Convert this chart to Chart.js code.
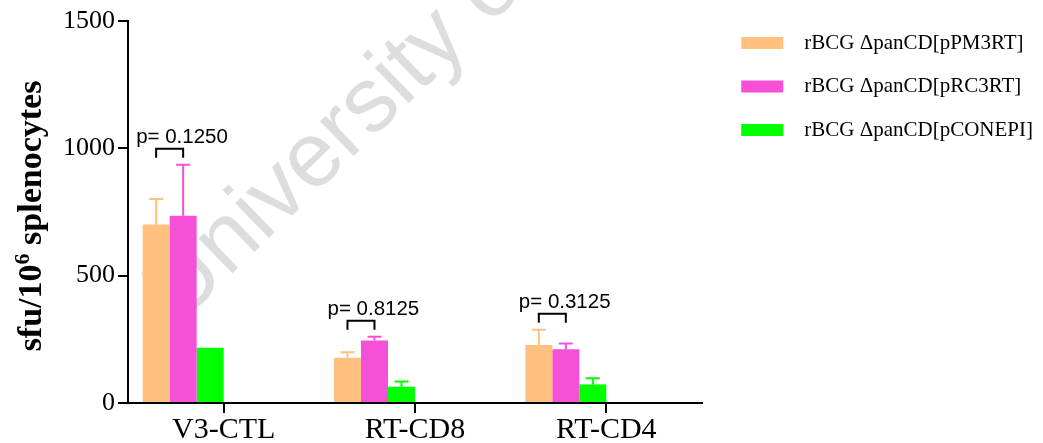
<!DOCTYPE html>
<html>
<head>
<meta charset="utf-8">
<script src="https://cdn.jsdelivr.net/npm/chart.js@4.4.1/dist/chart.umd.min.js"></script>
<style>
html,body{margin:0;padding:0;background:#fff;}
#c{display:block;}
</style>
</head>
<body>
<canvas id="c" width="1043" height="443"></canvas>
<script>
// ---- data ----
const categories = ['V3-CTL', 'RT-CD8', 'RT-CD4'];
const seriesNames = ['rBCG ΔpanCD[pPM3RT]', 'rBCG ΔpanCD[pRC3RT]', 'rBCG ΔpanCD[pCONEPI]'];
const pm3rtMean = [701, 178, 228];
const pm3rtErr = [100, 21, 60];
const rc3rtMean = [735, 245, 211];
const rc3rtErr = [201, 15, 23];
const conepiMean = [217, 64, 73];
const conepiErr = [0, 20, 24];
const pValueLabels = ['p= 0.1250', 'p= 0.8125', 'p= 0.3125'];
const yTickValues = [0, 500, 1000, 1500];
const yTitleMain = 'sfu/10';
const yTitleSup = '6';
const yTitleRest = ' splenocytes';
const watermarkText = 'University of';

const means = [pm3rtMean, rc3rtMean, conepiMean];
const errs = [pm3rtErr, rc3rtErr, conepiErr];
const colors = ['#FFC080', '#F550D7', '#00FF00'];

const SERIF = '"Liberation Serif", "Times New Roman", serif';
const SANS = '"Liberation Sans", Arial, sans-serif';

// legend width calculation so the plot ends at the same place
const LEG_FONT = 21, LEG_PAD = 22.5, LEG_BOX = 42;
const mctx = document.createElement('canvas').getContext('2d');
mctx.font = LEG_FONT + 'px ' + SERIF;
const textW = Math.max(...seriesNames.map(t => mctx.measureText('  ' + t).width));
const legendW = LEG_PAD + LEG_BOX + LEG_FONT / 2 + textW + 10;
const gapW = Math.max(0, 1043 - 702 - legendW);

const datasets = seriesNames.map((name, i) => ({
  label: name,
  data: means[i],
  backgroundColor: colors[i],
  borderWidth: 0
}));
// empty spacer slots (keep bars left of the tick like the original layout)
for (let k = 0; k < 3; k++) {
  datasets.push({ label: '', data: categories.map(() => null), backgroundColor: 'rgba(0,0,0,0)', borderWidth: 0 });
}

const watermarkPlugin = {
  id: 'watermark',
  beforeDatasetsDraw(chart) {
    const ctx = chart.ctx;
    ctx.save();
    ctx.translate(180, 324);
    ctx.rotate(-44 * Math.PI / 180);
    ctx.font = '92px ' + SANS;
    ctx.fillStyle = '#dddddd';
    ctx.textAlign = 'left';
    ctx.textBaseline = 'alphabetic';
    ctx.fillText(watermarkText, 0, 0);
    ctx.restore();
  }
};

const errorBarPlugin = {
  id: 'errorBars',
  afterDatasetsDraw(chart) {
    const ctx = chart.ctx;
    const y = chart.scales.y;
    ctx.save();
    ctx.lineWidth = 2;
    for (let i = 0; i < 3; i++) {
      const meta = chart.getDatasetMeta(i);
      meta.data.forEach((bar, j) => {
        const e = errs[i][j];
        if (!e) return;
        const top = y.getPixelForValue(means[i][j] + e);
        ctx.strokeStyle = colors[i];
        ctx.beginPath();
        ctx.moveTo(bar.x, bar.y);
        ctx.lineTo(bar.x, top);
        ctx.moveTo(bar.x - 7, top);
        ctx.lineTo(bar.x + 7, top);
        ctx.stroke();
      });
    }
    // significance brackets
    const m0 = chart.getDatasetMeta(0), m1 = chart.getDatasetMeta(1);
    ctx.strokeStyle = '#000';
    ctx.fillStyle = '#000';
    ctx.font = '20.5px ' + SANS;
    ctx.textAlign = 'left';
    ctx.textBaseline = 'alphabetic';
    categories.forEach((c, j) => {
      const x0 = m0.data[j].x, x1 = m1.data[j].x;
      const hi = Math.min(
        y.getPixelForValue(means[0][j] + errs[0][j]),
        y.getPixelForValue(means[1][j] + errs[1][j])
      );
      const bottom = hi - 7, top = bottom - 9;
      ctx.beginPath();
      ctx.moveTo(x0, bottom);
      ctx.lineTo(x0, top);
      ctx.lineTo(x1, top);
      ctx.lineTo(x1, bottom);
      ctx.stroke();
      ctx.fillText(pValueLabels[j], x0 - 20, top - 6);
    });
    ctx.restore();
  }
};

const yTitlePlugin = {
  id: 'yTitle',
  afterDraw(chart) {
    const ctx = chart.ctx;
    ctx.save();
    const big = 'bold 34px ' + SERIF, small = 'bold 22px ' + SERIF;
    ctx.font = big;
    const w1 = ctx.measureText(yTitleMain).width;
    const w3 = ctx.measureText(yTitleRest).width;
    ctx.font = small;
    const w2 = ctx.measureText(yTitleSup).width;
    const total = w1 + w2 + w3;
    ctx.translate(41, 216);
    ctx.rotate(-Math.PI / 2);
    ctx.fillStyle = '#000';
    ctx.textBaseline = 'alphabetic';
    ctx.textAlign = 'left';
    let x = -total / 2;
    ctx.font = big; ctx.fillText(yTitleMain, x, 0); x += w1;
    ctx.font = small; ctx.fillText(yTitleSup, x, -12); x += w2;
    ctx.font = big; ctx.fillText(yTitleRest, x, 0);
    ctx.restore();
  }
};

new Chart(document.getElementById('c'), {
  type: 'bar',
  data: { labels: categories, datasets },
  options: {
    responsive: false,
    animation: false,
    devicePixelRatio: 1,
    layout: { padding: { top: 10, left: 0, right: 0, bottom: 0 } },
    datasets: { bar: { barPercentage: 1.0, categoryPercentage: 0.847 } },
    scales: {
      x: {
        position: 'bottom',
        grid: { drawOnChartArea: false, drawTicks: true, tickLength: 10, offset: false, color: '#000', lineWidth: 2 },
        border: { display: true, color: '#000', width: 2 },
        ticks: { color: '#000', font: { family: SERIF, size: 30 }, padding: -1, maxRotation: 0, autoSkip: false },
        afterFit(s) { s.height = 40; }
      },
      xTop: {
        type: 'category', position: 'top', display: true,
        grid: { display: false }, border: { display: false }, ticks: { display: false },
        afterFit(s) { s.height = 11; }
      },
      y: {
        min: 0, max: 1500,
        afterBuildTicks(s) { s.ticks = yTickValues.map(v => ({ value: v })); },
        grid: { drawOnChartArea: false, drawTicks: true, tickLength: 10, color: '#000', lineWidth: 2 },
        border: { display: true, color: '#000', width: 2 },
        ticks: { color: '#000', font: { family: SERIF, size: 26 }, padding: 3, callback: v => String(v) },
        afterFit(s) { s.width = 128; }
      },
      yRight: {
        type: 'linear', position: 'right', display: true, min: 0, max: 1,
        grid: { display: false }, border: { display: false }, ticks: { display: false },
        afterFit(s) { s.width = gapW; }
      }
    },
    plugins: {
      tooltip: { enabled: false },
      legend: {
        position: 'right',
        align: 'start',
        maxWidth: 600,
        labels: {
          boxWidth: LEG_BOX,
          boxHeight: 12,
          padding: LEG_PAD,
          color: '#000',
          font: { family: SERIF, size: LEG_FONT },
          filter: (item) => item.datasetIndex < 3,
          generateLabels(chart) {
            const items = Chart.defaults.plugins.legend.labels.generateLabels(chart);
            return items.map(it => Object.assign({}, it, { text: '  ' + it.text, lineWidth: 0 }));
          }
        }
      }
    }
  },
  plugins: [watermarkPlugin, errorBarPlugin, yTitlePlugin]
});
</script>
</body>
</html>
